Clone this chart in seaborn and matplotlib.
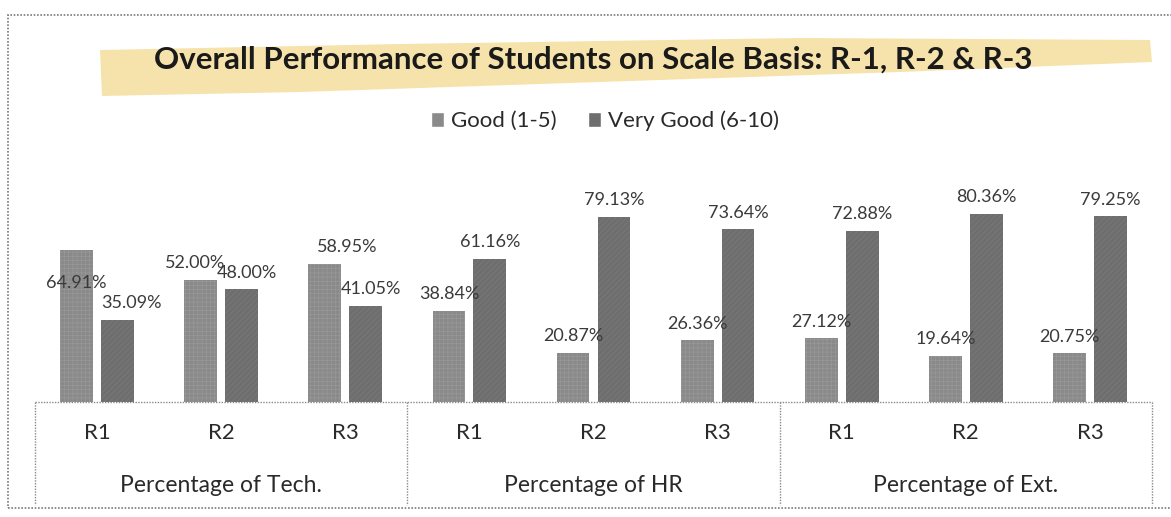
import matplotlib
matplotlib.use("Agg")
import matplotlib.pyplot as plt
import seaborn as sns
import pandas as pd
from matplotlib.patches import Rectangle, Polygon
from matplotlib.lines import Line2D

# data
groups = ["Percentage of Tech.", "Percentage of HR", "Percentage of Ext."]
rounds = ["R1", "R2", "R3"]
series = ["Good (1-5)", "Very Good (6-10)"]
good = [64.91, 52.00, 58.95, 38.84, 20.87, 26.36, 27.12, 19.64, 20.75]
very_good = [35.09, 48.00, 41.05, 61.16, 79.13, 73.64, 72.88, 80.36, 79.25]

sns.set_style("white")
plt.rcParams["font.family"] = ["Lato", "DejaVu Sans"]
plt.rcParams["hatch.linewidth"] = 0.4

rows = []
for i, (g, v) in enumerate(zip(good, very_good)):
    slot = f"{groups[i // 3]}|{rounds[i % 3]}"
    rows.append({"slot": slot, "series": series[0], "value": g})
    rows.append({"slot": slot, "series": series[1], "value": v})
df = pd.DataFrame(rows)
order = [f"{g}|{r}" for g in groups for r in rounds]

W, H = 1171, 517
fig = plt.figure(figsize=(W / 100, H / 100), dpi=100)
ax = fig.add_axes([35 / W, 1 - 402 / H, (1152 - 35) / W, 252 / H])

colors = {series[0]: "#8a8a8a", series[1]: "#6e6e6e"}
sns.barplot(data=df, x="slot", y="value", hue="series", order=order,
            hue_order=series, palette=colors, width=0.66, gap=0.2,
            linewidth=0, ax=ax, legend=False)

# subtle scanned-print texture
for bar in ax.patches[:9]:
    bar.set_hatch("++++")
    bar.set_edgecolor("#9a9a9a")
    bar.set_linewidth(0)
for bar in ax.patches[9:]:
    bar.set_hatch("//////")
    bar.set_edgecolor("#7e7e7e")
    bar.set_linewidth(0)

ax.set_xlim(-0.5, 8.5)
ax.set_ylim(0, 107.5)
ax.set_xticks([])
ax.set_yticks([])
ax.set_xlabel("")
ax.set_ylabel("")
for s in ax.spines.values():
    s.set_visible(False)

# value labels
label_nudge = {0: (0, -36), 9: (10, 0), 2: (16, 0), 11: (4, 0), 1: (-4, 0), 10: (4, 0)}
for k, bar in enumerate(ax.patches[:18]):
    val = bar.get_height()
    dx, dy = label_nudge.get(k, (0, 0))
    ax.annotate(f"{val:.2f}%", (bar.get_x() + bar.get_width() / 2, val),
                xytext=(dx, 12 + dy), textcoords="offset points",
                ha="center", va="center", fontsize=13, color="#3a3a3a")

# category table under the axis
line_kw = dict(color="#8a8a8a", lw=1.0, ls=(0, (1, 1)), clip_on=False)
ax.plot([-0.5, 8.5], [0, 0], **line_kw)
trans = ax.get_xaxis_transform()
for xb in [-0.5, 2.5, 5.5, 8.5]:
    ax.add_line(Line2D([xb, xb], [0, -103 / 252], transform=trans, **line_kw))
for i in range(9):
    ax.text(i, -31 / 252, rounds[i % 3], transform=trans, ha="center",
            va="center", fontsize=16, color="#2a2a2a")
for j, g in enumerate(groups):
    ax.text(3 * j + 1, -83 / 252, g, transform=trans, ha="center",
            va="center", fontsize=16.5, color="#2a2a2a")

# title with highlighter band
band = [(100, 50), (400, 44), (800, 38), (1150, 40), (1152, 62),
        (900, 72), (600, 82), (300, 92), (102, 96)]
fig.patches.append(Polygon([(x / W, 1 - y / H) for x, y in band], closed=True,
                           transform=fig.transFigure, facecolor="#f5e0a2",
                           edgecolor="none", alpha=0.9, zorder=0))
fig.text(593 / W, 1 - 60 / H,
         "Overall Performance of Students on Scale Basis: R-1, R-2 & R-3",
         ha="center", va="center", fontsize=22.5, fontweight="bold", color="#1a1a1a")

# legend
handles = [Rectangle((0, 0), 1, 1, facecolor=colors[s]) for s in series]
fig.legend(handles, series, loc="center", bbox_to_anchor=(605 / W, 1 - 121 / H),
           ncol=2, frameon=False, fontsize=16, handlelength=0.6, handleheight=0.6,
           handletextpad=0.3, columnspacing=1.4, labelcolor="#2a2a2a")

# outer border of the scanned chart
fig.patches.append(Rectangle((8 / W, 1 - 508 / H), 1.02 - 8 / W, 493 / H,
                             transform=fig.transFigure, fill=False,
                             edgecolor="#7a7a7a", lw=1.2, ls=(0, (1, 1))))

fig.savefig("out.png", dpi=100)
